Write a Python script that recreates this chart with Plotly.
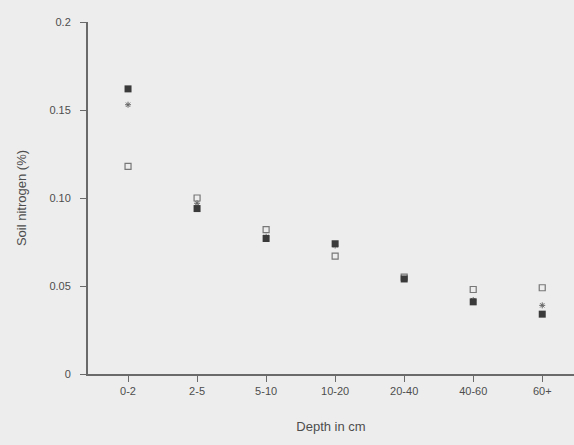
import plotly.graph_objects as go

# Soil nitrogen by depth class, three sampled profiles
depths = ["0-2", "2-5", "5-10", "10-20", "20-40", "40-60", "60+"]
profile_a = [0.162, 0.094, 0.077, 0.074, 0.054, 0.041, 0.034]
profile_b = [0.153, 0.097, 0.078, 0.073, 0.054, 0.042, 0.039]
profile_c = [0.118, 0.100, 0.082, 0.067, 0.055, 0.048, 0.049]

y_ticks = [0, 0.05, 0.10, 0.15, 0.2]
y_tick_text = ["0", "0.05", "0.10", "0.15", "0.2"]

font_family = "Liberation Sans, Arial, sans-serif"
ink = "#4d4d4d"

fig = go.Figure()
fig.add_trace(go.Scatter(
    x=depths, y=profile_c, mode="markers",
    marker=dict(symbol="square-open", size=6, color="#777777",
                line=dict(width=1.2, color="#777777")),
    showlegend=False,
))
fig.add_trace(go.Scatter(
    x=depths, y=profile_b, mode="markers",
    marker=dict(symbol="asterisk-open", size=5, color="#666666",
                line=dict(width=1, color="#666666")),
    showlegend=False,
))
fig.add_trace(go.Scatter(
    x=depths, y=profile_a, mode="markers",
    marker=dict(symbol="square", size=7, color="#3a3a3a"),
    showlegend=False,
))

fig.update_layout(
    template="none",
    width=574, height=445,
    margin=dict(l=88, r=0, t=22, b=71),
    paper_bgcolor="#ededed",
    plot_bgcolor="#ededed",
    font=dict(family=font_family, color=ink, size=11),
    xaxis=dict(
        type="category",
        range=[-0.58, 6.46],
        showgrid=False, zeroline=False,
        showline=True, linecolor="#6a6a6a", linewidth=2,
        ticks="outside", ticklen=6, tickcolor="#6a6a6a", tickwidth=1,
        tickfont=dict(size=11, color=ink),
        title=dict(text="Depth in cm", font=dict(size=13, color=ink), standoff=26),
    ),
    yaxis=dict(
        range=[0, 0.2],
        tickvals=y_ticks, ticktext=y_tick_text,
        showgrid=False, zeroline=False,
        showline=True, linecolor="#6a6a6a", linewidth=2,
        ticks="outside", ticklen=6, tickcolor="#6a6a6a", tickwidth=1,
        ticklabelstandoff=7,
        tickfont=dict(size=11, color=ink),
        title=dict(text="Soil nitrogen (%)", font=dict(size=13, color=ink), standoff=20),
    ),
)

fig.write_html("out.html")
